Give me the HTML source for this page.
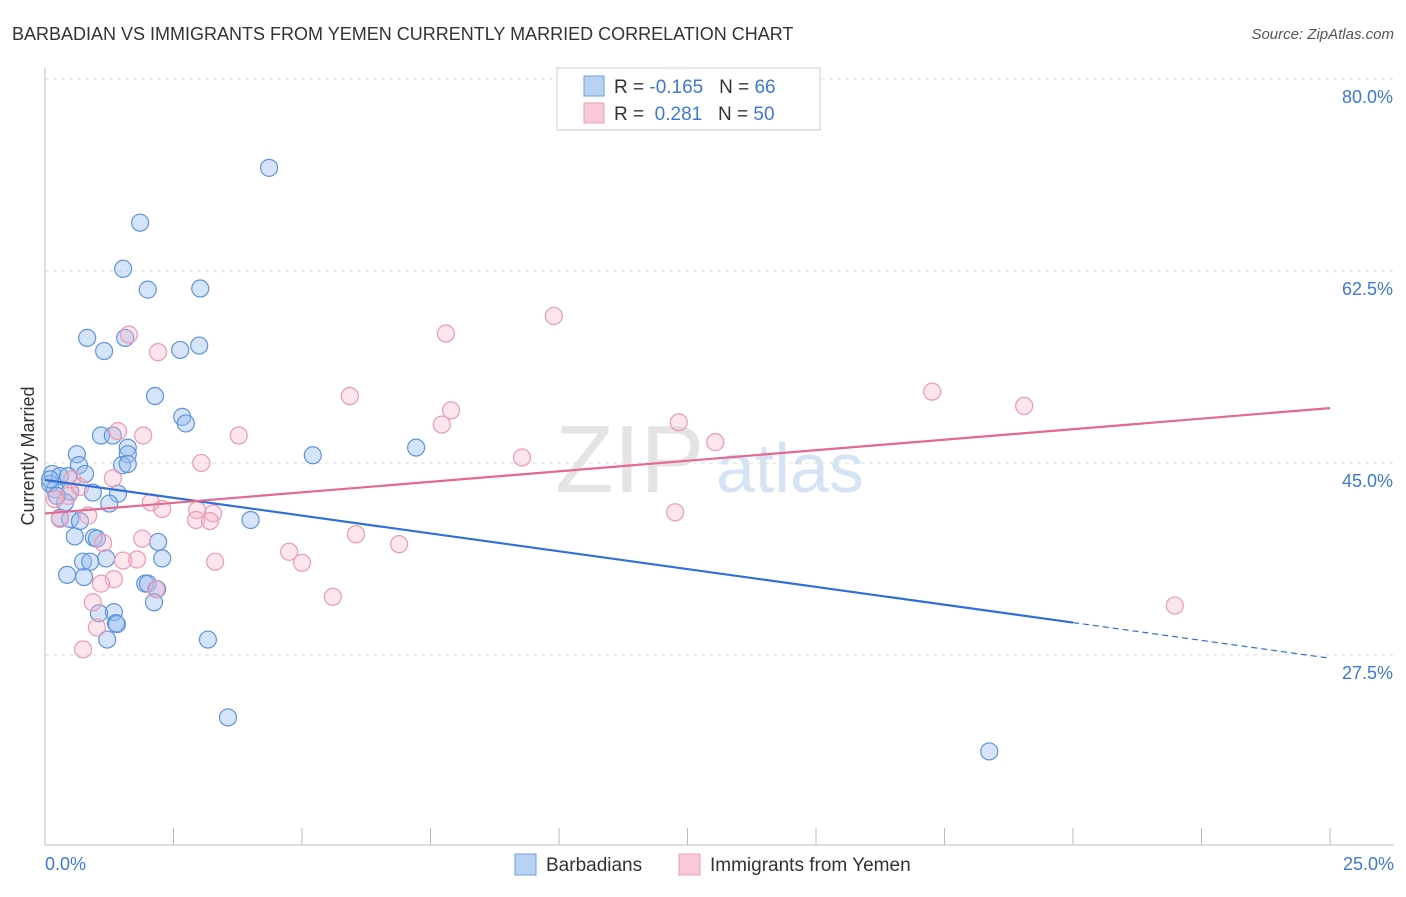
<!DOCTYPE html>
<html><head><meta charset="utf-8"><style>
body{margin:0;background:#fff;font-family:"Liberation Sans",sans-serif;}
svg text{font-family:"Liberation Sans",sans-serif;}
</style></head><body>
<svg width="1406" height="892" viewBox="0 0 1406 892">
<text x="12" y="40" font-size="18" fill="#333">BARBADIAN VS IMMIGRANTS FROM YEMEN CURRENTLY MARRIED CORRELATION CHART</text>
<text x="1394" y="39" font-size="15" fill="#555" text-anchor="end" font-style="italic">Source: ZipAtlas.com</text>
<g id="grid"></g>
<text x="555" y="492" font-size="96" fill="#e4e4e4" font-family="Liberation Serif">ZIP</text>
<text x="716" y="492" font-size="70" fill="#d6e3f5">atlas</text>
<line x1="45" y1="68" x2="45" y2="845" stroke="#bbb"/>
<line x1="45" y1="845" x2="1394" y2="845" stroke="#bbb"/>
<g id="ticks"></g>
<text transform="translate(34,456) rotate(-90)" font-size="18" fill="#333" text-anchor="middle">Currently Married</text>
<text x="45" y="870" font-size="18" fill="#3d78d8">0.0%</text>
<text x="1394" y="870" font-size="18" fill="#3d78d8" text-anchor="end">25.0%</text>
<g id="points"></g>
<g id="lines"></g>
<g>
<rect x="557" y="68" width="263" height="62" fill="#fff" stroke="#ccc"/>
<rect x="584" y="76" width="20" height="20" fill="#b9d2f3" stroke="#6d9ee0"/>
<rect x="584" y="103" width="20" height="20" fill="#f9c9d7" stroke="#eaa0b7"/>
<text x="614" y="93" font-size="19" fill="#333">R = <tspan fill="#3d78d8">-0.165</tspan>&#160;&#160;&#160;N = <tspan fill="#3d78d8">66</tspan></text>
<text x="614" y="120" font-size="19" fill="#333">R = &#160;<tspan fill="#3d78d8">0.281</tspan>&#160;&#160;&#160;N = <tspan fill="#3d78d8">50</tspan></text>
</g>
<g>
<rect x="515" y="854" width="21" height="21" fill="#b9d2f3" stroke="#6d9ee0"/>
<text x="546" y="871" font-size="19" fill="#333">Barbadians</text>
<rect x="679" y="854" width="21" height="21" fill="#f9c9d7" stroke="#eaa0b7"/>
<text x="710" y="871" font-size="19" fill="#333">Immigrants from Yemen</text>
</g>
</svg>
<script>
const yTicks=[80,62.5,45,27.5];
const yTickLabels=["80.0%","62.5%","45.0%","27.5%"];
const xTicks=[2.5,5,7.5,10,12.5,15,17.5,20,22.5,25];
const blueX=[4.36,1.85,1.52,2.0,3.02,0.82,1.56,1.15,2.63,3.0,2.14,2.67,2.74,1.09,1.32,1.61,1.61,5.21,7.22,0.62,0.66,1.5,1.61,0.14,0.29,0.45,0.78,0.1,0.19,0.49,0.93,1.42,0.39,1.25,0.29,0.49,0.68,4.0,0.58,0.95,1.01,2.2,2.28,1.19,0.74,0.88,0.43,0.76,1.95,2.0,2.18,2.12,1.34,1.05,1.38,1.4,1.21,3.17,3.56,18.37,0.1,0.23];
const blueY=[71.9,66.9,62.7,60.8,60.9,56.4,56.4,55.2,55.3,55.7,51.1,49.2,48.6,47.5,47.5,46.4,45.8,45.7,46.4,45.8,44.8,44.8,44.9,44.0,43.8,43.8,44.0,43.1,42.6,42.4,42.3,42.2,41.4,41.3,40.0,39.9,39.7,39.8,38.3,38.2,38.1,37.8,36.3,36.3,36.0,36.0,34.8,34.6,34.0,34.0,33.5,32.3,31.4,31.3,30.4,30.3,28.9,28.9,21.8,18.7,43.5,42.0];
const pinkX=[9.9,7.8,1.63,2.2,5.93,17.26,19.05,7.9,7.72,12.33,13.04,1.42,1.91,3.77,3.04,9.28,1.32,0.53,0.45,0.68,2.06,2.28,2.96,3.27,0.84,0.29,2.94,3.21,12.26,1.89,1.13,6.05,6.89,4.75,5.0,3.31,1.79,1.52,1.34,1.09,2.16,5.6,0.93,1.01,0.74,21.98,0.19];
const pinkY=[58.4,56.8,56.7,55.1,51.1,51.5,50.2,49.8,48.5,48.7,46.9,47.9,47.5,47.5,45.0,45.5,43.6,43.5,42.0,42.8,41.4,40.8,40.7,40.4,40.2,39.9,39.8,39.7,40.5,38.1,37.7,38.5,37.6,36.9,35.9,36.0,36.2,36.1,34.4,34.0,33.5,32.8,32.3,30.0,28.0,32.0,41.7];
const blueTrend=[43.45,27.2];
const pinkTrend=[40.4,50.0];
const NS="http://www.w3.org/2000/svg";
const sx=v=>45+v*51.4;
const sy=v=>79+(80-v)*10.97;
function mk(tag,attrs,parent){const e=document.createElementNS(NS,tag);for(const k in attrs)e.setAttribute(k,attrs[k]);document.getElementById(parent).appendChild(e);return e;}
yTicks.forEach((t,i)=>{
 const l=mk('line',{x1:45,x2:1394,y1:sy(t),y2:sy(t),stroke:'#ddd','stroke-dasharray':'4,4'},'grid');
 
 
 const tx=mk('text',{x:1393,y:sy(t)+24,'font-size':18,fill:'#3d78d8','text-anchor':'end'},'grid');
 tx.textContent=yTickLabels[i];
 
 
});
xTicks.forEach(t=>{
 const l=mk('line',{x1:sx(t),x2:sx(t),y1:828,y2:845,stroke:'#bbb'},'ticks');
 
 
});
blueX.forEach((v,i)=>{
 const c=mk('circle',{cx:sx(v),cy:sy(blueY[i]),r:8.5,fill:'rgba(150,188,238,0.4)',stroke:'#5f93dc','stroke-width':1.2},'points');
 
 
});
pinkX.forEach((v,i)=>{
 const c=mk('circle',{cx:sx(v),cy:sy(pinkY[i]),r:8.5,fill:'rgba(246,180,200,0.35)',stroke:'#eb9ab4','stroke-width':1.2},'points');
 
 
});
const bAt=x=>blueTrend[0]+(blueTrend[1]-blueTrend[0])*x/25;
const bl=mk('line',{x1:sx(0),y1:sy(bAt(0)),x2:sx(20),y2:sy(bAt(20)),stroke:'#2f6fd8','stroke-width':2.2},'lines');


const bd=mk('line',{x1:sx(20),y1:sy(bAt(20)),x2:sx(25),y2:sy(bAt(25)),stroke:'#2f6fd8','stroke-width':1.2,'stroke-dasharray':'6,4'},'lines');


const pl=mk('line',{x1:sx(0),y1:sy(pinkTrend[0]),x2:sx(25),y2:sy(pinkTrend[1]),stroke:'#e46893','stroke-width':2.2},'lines');


</script>
</body></html>
